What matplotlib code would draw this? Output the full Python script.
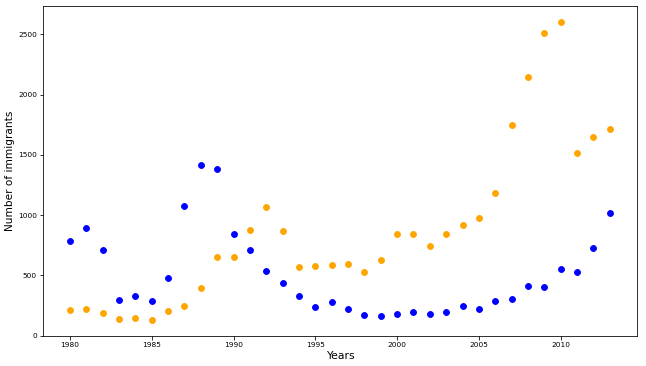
import matplotlib
matplotlib.use("Agg")
import matplotlib.pyplot as plt

years = list(range(1980, 2014))

# first series (blue)
series_blue = [782, 896, 708, 299, 332, 285, 481, 1078, 1418, 1380,
               846, 708, 539, 437, 332, 235, 279, 224, 174, 166,
               180, 194, 180, 194, 249, 224, 285, 304, 412, 401,
               550, 525, 727, 1015]

# second series (orange)
series_orange = [210, 221, 191, 141, 147, 127, 205, 249, 393, 650,
                 650, 877, 1067, 865, 570, 575, 589, 594, 531, 628,
                 846, 846, 747, 841, 921, 973, 1186, 1745, 2143, 2513,
                 2602, 1512, 1645, 1714]

# rendered at 72 dpi like a notebook figure
fig = plt.figure(figsize=(646 / 72, 366 / 72), dpi=72)
ax = fig.add_axes([0.0666, 0.082, 0.919, 0.901])

ax.scatter(years, series_blue, color="blue", s=34)
ax.scatter(years, series_orange, color="orange", s=34)

ax.set_ylim(-3, 2733)
ax.set_xlabel("Years", fontsize=10.8, labelpad=3)
ax.set_ylabel("Number of immigrants", fontsize=10.5, labelpad=3)
ax.tick_params(labelsize=7.4, pad=2.5)

fig.savefig("out.png", dpi=72)
